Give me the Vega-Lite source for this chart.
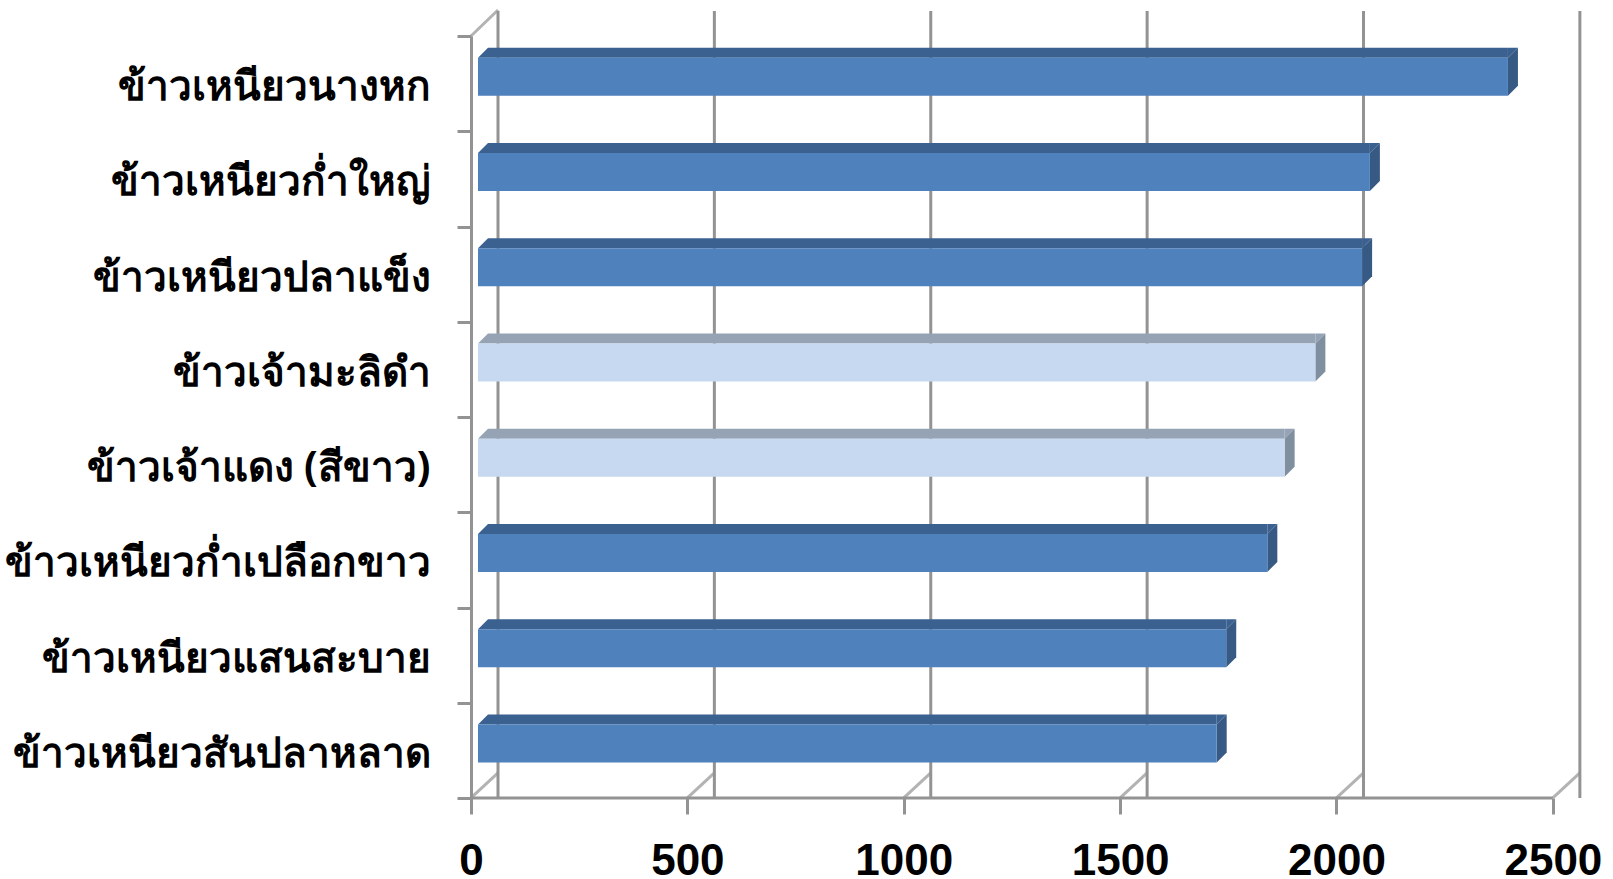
{"$schema":"https://vega.github.io/schema/vega-lite/v6.json","width":1110,"height":762,"autosize":"none","padding":{"left":471,"top":36,"right":32,"bottom":81},"background":"white","config":{"view":{"stroke":null},"axis":{"grid":false}},"data":{"name":"rice","values":[{"name":"ข้าวเหนียวนางหก","v":2380,"kind":"a"},{"name":"ข้าวเหนียวก่ำใหญ่","v":2061,"kind":"a"},{"name":"ข้าวเหนียวปลาแข็ง","v":2043,"kind":"a"},{"name":"ข้าวเจ้ามะลิดำ","v":1935,"kind":"b"},{"name":"ข้าวเจ้าแดง (สีขาว)","v":1864,"kind":"b"},{"name":"ข้าวเหนียวก่ำเปลือกขาว","v":1824,"kind":"a"},{"name":"ข้าวเหนียวแสนสะบาย","v":1729,"kind":"a"},{"name":"ข้าวเหนียวสันปลาหลาด","v":1707,"kind":"a"}]},"resolve":{"scale":{"color":"independent"}},"layer":[{"data":{"values":[{"t":0},{"t":500},{"t":1000},{"t":1500},{"t":2000},{"t":2500}]},"mark":{"type":"rule","color":"#939393","strokeWidth":3,"xOffset":27,"yOffset":-25},"encoding":{"x":{"field":"t","type":"quantitative","scale":{"domain":[0,2565],"nice":false,"zero":false},"axis":{"values":[0,500,1000,1500,2000,2500],"title":null,"format":"d","labelFont":"Liberation Sans","labelFontWeight":"bold","labelFontSize":44,"labelColor":"black","labelPadding":25,"labelFlush":false,"domain":false,"tickColor":"#939393","tickWidth":3,"tickSize":16}}}},{"data":{"values":[{"t":0},{"t":500},{"t":1000},{"t":1500},{"t":2000},{"t":2500}]},"mark":{"type":"point","filled":false,"stroke":"#939393","strokeWidth":3,"size":4,"shape":"M0,47.6 L27,22.6"},"encoding":{"x":{"field":"t","type":"quantitative"},"y":{"datum":"ข้าวเหนียวสันปลาหลาด"}}},{"data":{"values":[{"t":0}]},"mark":{"type":"point","filled":false,"stroke":"#939393","strokeWidth":3,"size":4,"shape":"M0,-47.6 L27,-73.6"},"encoding":{"x":{"field":"t","type":"quantitative"},"y":{"datum":"ข้าวเหนียวนางหก"}}},{"data":{"values":[{"from":0,"to":2500}]},"mark":{"type":"rule","color":"#939393","strokeWidth":3,"yOffset":47.6},"encoding":{"x":{"field":"from","type":"quantitative"},"x2":{"field":"to"},"y":{"datum":"ข้าวเหนียวสันปลาหลาด"}}},{"data":{"name":"rice"},"mark":{"type":"bar","xOffset":7,"x2Offset":17,"height":10,"yOffset":-31},"encoding":{"x":{"field":"v","type":"quantitative"},"x2":{"datum":0},"y":{"field":"name","type":"nominal"},"color":{"field":"kind","type":"nominal","legend":null,"scale":{"domain":["a","b"],"range":["#3b6190","#95a3b5"]}}}},{"data":{"name":"rice"},"mark":{"type":"point","filled":true,"strokeWidth":0,"opacity":1,"size":4,"xOffset":7,"shape":"M0,-26 L10,-36 L10,-26 Z"},"encoding":{"x":{"datum":0},"y":{"field":"name","type":"nominal"},"color":{"field":"kind","type":"nominal","legend":null,"scale":{"domain":["a","b"],"range":["#3b6190","#95a3b5"]}}}},{"data":{"name":"rice"},"mark":{"type":"point","filled":true,"strokeWidth":0,"opacity":1,"size":4,"xOffset":7,"shape":"M0,-26 L10,-36 L0,-36 Z"},"encoding":{"x":{"field":"v","type":"quantitative"},"y":{"field":"name","type":"nominal"},"color":{"field":"kind","type":"nominal","legend":null,"scale":{"domain":["a","b"],"range":["#3b6190","#95a3b5"]}}}},{"data":{"name":"rice"},"mark":{"type":"point","filled":true,"strokeWidth":0,"opacity":1,"size":4,"xOffset":7,"shape":"M0,-26 L10,-36 L10,2 L0,12 Z"},"encoding":{"x":{"field":"v","type":"quantitative"},"y":{"field":"name","type":"nominal"},"color":{"field":"kind","type":"nominal","legend":null,"scale":{"domain":["a","b"],"range":["#375a85","#7f8fa0"]}}}},{"data":{"name":"rice"},"mark":{"type":"bar","xOffset":7,"height":38,"yOffset":-7},"encoding":{"y":{"field":"name","type":"nominal","scale":{"domain":["ข้าวเหนียวนางหก","ข้าวเหนียวก่ำใหญ่","ข้าวเหนียวปลาแข็ง","ข้าวเจ้ามะลิดำ","ข้าวเจ้าแดง (สีขาว)","ข้าวเหนียวก่ำเปลือกขาว","ข้าวเหนียวแสนสะบาย","ข้าวเหนียวสันปลาหลาด"]},"axis":{"title":null,"labelFont":"Noto Sans","labelFontWeight":"bold","labelFontSize":40.5,"labelLimit":600,"labelColor":"black","labelPadding":27,"labelOffset":4,"tickColor":"#939393","tickWidth":3,"tickSize":14,"tickBand":"extent","domainColor":"#939393","domainWidth":3}},"x":{"field":"v","type":"quantitative"},"color":{"field":"kind","type":"nominal","legend":null,"scale":{"domain":["a","b"],"range":["#4f81bd","#c6d9f1"]}}}}]}
